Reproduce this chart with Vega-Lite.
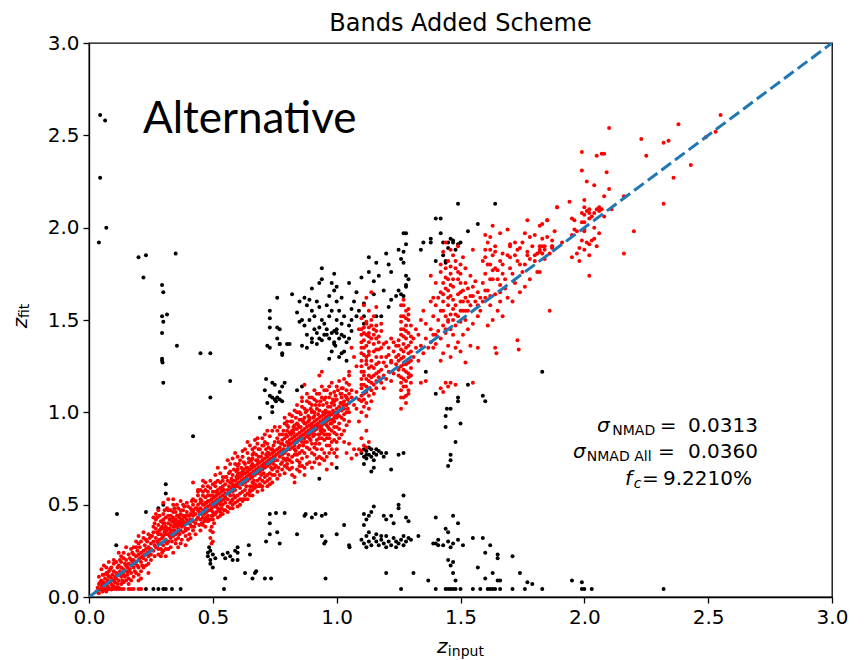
{
  "$schema": "https://vega.github.io/schema/vega-lite/v6.json",
  "width": 743,
  "height": 554,
  "autosize": {"type": "none"},
  "padding": {"left": 89, "top": 43, "right": 32, "bottom": 63},
  "background": "white",
  "config": {
    "view": {"stroke": "black", "strokeWidth": 1.3},
    "axis": {"grid": false, "title": null, "domainColor": "black", "domainWidth": 1.3, "tickColor": "black", "tickWidth": 1.3, "tickSize": 6, "labelFont": "DejaVu Sans", "labelFontSize": 20, "labelColor": "black", "labelPadding": 4, "labelFlush": false, "labelOverlap": false}
  },
  "datasets": {
    "outliers": [
      {"x":0.045,"y":2.61},{"x":0.065,"y":2.58},{"x":0.045,"y":2.27},{"x":0.07,"y":2.0},{"x":0.04,"y":1.92},
      {"x":0.2,"y":1.84},{"x":0.23,"y":1.85},{"x":0.35,"y":1.86},{"x":0.22,"y":1.73},{"x":0.295,"y":1.69},{"x":0.3,"y":1.65},
      {"x":0.295,"y":1.52},{"x":0.315,"y":1.53},{"x":0.3,"y":1.49},{"x":0.295,"y":1.43},{"x":0.355,"y":1.36},{"x":0.295,"y":1.29},
      {"x":0.295,"y":1.28},{"x":0.297,"y":1.27},{"x":0.45,"y":1.32},{"x":0.49,"y":1.32},{"x":0.3,"y":1.16},{"x":0.42,"y":0.87},
      {"x":0.57,"y":1.17},{"x":0.49,"y":1.08},{"x":0.113,"y":0.45},{"x":0.11,"y":0.28},{"x":0.23,"y":0.46},{"x":0.31,"y":0.61},
      {"x":0.31,"y":0.56},{"x":0.3,"y":0.5},{"x":0.28,"y":0.48},
      {"x":0.94,"y":1.78},{"x":0.94,"y":1.72},{"x":0.93,"y":1.7},{"x":0.9,"y":1.67},{"x":0.76,"y":1.62},{"x":0.82,"y":1.64},
      {"x":0.85,"y":1.6},{"x":0.73,"y":1.55},{"x":0.73,"y":1.51},{"x":0.73,"y":1.46},{"x":0.76,"y":1.46},{"x":0.77,"y":1.45},
      {"x":0.76,"y":1.4},{"x":0.77,"y":1.37},{"x":0.73,"y":1.35},{"x":0.78,"y":1.31},{"x":0.81,"y":1.37},{"x":0.84,"y":1.54},
      {"x":0.85,"y":1.49},{"x":0.86,"y":1.5},{"x":0.87,"y":1.62},{"x":0.88,"y":1.58},{"x":0.89,"y":1.61},{"x":0.9,"y":1.55},
      {"x":0.91,"y":1.52},{"x":0.92,"y":1.6},{"x":0.93,"y":1.57},{"x":0.94,"y":1.5},{"x":0.95,"y":1.48},{"x":0.96,"y":1.45},
      {"x":0.92,"y":1.43},{"x":0.9,"y":1.4},{"x":0.88,"y":1.42},{"x":0.87,"y":1.47},{"x":0.89,"y":1.5},{"x":0.93,"y":1.46},
      {"x":0.95,"y":1.42},{"x":0.97,"y":1.4},{"x":0.99,"y":1.44},{"x":0.97,"y":1.52},{"x":0.96,"y":1.58},{"x":0.98,"y":1.55},
      {"x":1.0,"y":1.5},{"x":1.0,"y":1.6},{"x":0.99,"y":1.66},{"x":0.97,"y":1.63},{"x":0.91,"y":1.45},{"x":0.94,"y":1.39},
      {"x":0.86,"y":1.36},{"x":0.88,"y":1.35},{"x":0.92,"y":1.37},
      {"x":0.98,"y":1.7},{"x":1.0,"y":1.68},{"x":1.02,"y":1.62},{"x":1.01,"y":1.55},{"x":1.03,"y":1.52},{"x":1.0,"y":1.45},
      {"x":1.02,"y":1.42},{"x":1.04,"y":1.38},{"x":0.99,"y":1.37},{"x":1.03,"y":1.33},{"x":1.05,"y":1.47},{"x":1.06,"y":1.56},
      {"x":1.05,"y":1.4},{"x":1.01,"y":1.3},{"x":1.04,"y":1.28},{"x":0.98,"y":1.33},{"x":1.06,"y":1.44},{"x":1.08,"y":1.52},
      {"x":0.99,"y":1.75},{"x":1.02,"y":1.48},
      {"x":1.13,"y":1.84},{"x":1.16,"y":1.81},{"x":1.2,"y":1.86},{"x":1.21,"y":1.8},{"x":1.13,"y":1.76},{"x":1.1,"y":1.73},
      {"x":1.15,"y":1.71},{"x":1.17,"y":1.74},{"x":1.22,"y":1.76},{"x":1.19,"y":1.66},{"x":1.15,"y":1.64},{"x":1.11,"y":1.59},
      {"x":1.22,"y":1.61},{"x":1.21,"y":1.57},{"x":1.16,"y":1.52},{"x":1.11,"y":1.52},{"x":1.11,"y":1.48},{"x":1.18,"y":1.52},
      {"x":1.25,"y":1.88},{"x":1.27,"y":1.87},{"x":1.26,"y":1.83},{"x":1.27,"y":1.81},{"x":1.28,"y":1.74},{"x":1.28,"y":1.69},
      {"x":1.26,"y":1.64},{"x":1.27,"y":1.63},{"x":1.28,"y":1.68},{"x":1.24,"y":1.63},{"x":1.25,"y":1.66},{"x":1.29,"y":1.72},
      {"x":1.28,"y":1.91},{"x":1.27,"y":1.97},
      {"x":1.05,"y":1.7},{"x":1.07,"y":1.6},{"x":1.08,"y":1.65},{"x":1.09,"y":1.55},{"x":1.06,"y":1.5},
      {"x":1.34,"y":1.88},{"x":1.35,"y":1.92},{"x":1.38,"y":1.92},{"x":1.38,"y":1.94},{"x":1.4,"y":1.82},{"x":1.43,"y":1.85},
      {"x":1.43,"y":1.92},{"x":1.45,"y":1.92},{"x":1.47,"y":1.92},{"x":1.46,"y":1.94},{"x":1.47,"y":1.93},{"x":1.49,"y":1.91},
      {"x":1.5,"y":1.92},{"x":1.45,"y":1.89},{"x":1.48,"y":1.88},{"x":1.44,"y":1.82},{"x":1.44,"y":1.81},{"x":1.42,"y":1.97},
      {"x":1.4,"y":2.05},{"x":1.42,"y":2.05},{"x":1.49,"y":2.13},{"x":1.64,"y":2.13},{"x":1.57,"y":2.02},{"x":1.28,"y":1.97},
      {"x":1.53,"y":1.98},
      {"x":0.715,"y":1.18},{"x":0.74,"y":1.16},{"x":0.75,"y":1.15},{"x":0.78,"y":1.14},{"x":0.79,"y":1.16},{"x":0.73,"y":1.09},
      {"x":0.74,"y":1.08},{"x":0.75,"y":1.07},{"x":0.76,"y":1.08},{"x":0.72,"y":1.05},{"x":0.74,"y":1.03},{"x":0.755,"y":1.06},
      {"x":0.69,"y":0.97},{"x":0.74,"y":1.0},{"x":0.77,"y":1.07},{"x":0.78,"y":1.06},{"x":0.71,"y":1.12},{"x":0.77,"y":1.11},
      {"x":0.72,"y":1.36},{"x":0.77,"y":1.37},{"x":0.8,"y":1.37},{"x":0.78,"y":1.32},{"x":0.9,"y":1.38},{"x":0.93,"y":1.4},
      {"x":0.96,"y":1.42},{"x":0.98,"y":1.43},{"x":1.0,"y":1.43},{"x":1.01,"y":1.4},{"x":1.03,"y":1.41},{"x":0.97,"y":1.29},
      {"x":1.02,"y":1.32},{"x":0.99,"y":1.38},{"x":0.995,"y":1.36},
      {"x":0.84,"y":1.12},{"x":0.86,"y":1.14},
      {"x":1.59,"y":1.09},{"x":1.6,"y":1.06},{"x":1.49,"y":1.08},{"x":1.49,"y":1.06},{"x":1.445,"y":1.02},{"x":1.46,"y":1.02},
      {"x":1.44,"y":0.98},{"x":1.5,"y":0.94},{"x":1.44,"y":0.92},{"x":1.48,"y":0.84},{"x":1.46,"y":0.77},{"x":1.46,"y":0.74},
      {"x":1.45,"y":0.71},{"x":1.53,"y":1.15},{"x":1.83,"y":1.22},{"x":1.36,"y":1.22},{"x":1.4,"y":1.1},
      {"x":1.1,"y":0.78},{"x":1.11,"y":0.76},{"x":1.12,"y":0.79},{"x":1.13,"y":0.77},{"x":1.14,"y":0.8},{"x":1.15,"y":0.78},
      {"x":1.12,"y":0.75},{"x":1.14,"y":0.76},{"x":1.16,"y":0.77},{"x":1.17,"y":0.79},{"x":1.11,"y":0.8},{"x":1.13,"y":0.81},
      {"x":1.15,"y":0.74},{"x":1.18,"y":0.78},{"x":1.16,"y":0.8},{"x":1.12,"y":0.77},
      {"x":0.93,"y":0.64},{"x":1.0,"y":0.7},{"x":1.11,"y":0.72},{"x":1.14,"y":0.68},{"x":1.15,"y":0.7},{"x":1.22,"y":0.69},
      {"x":1.25,"y":0.77},{"x":1.27,"y":0.78},{"x":1.2,"y":0.78},{"x":1.19,"y":0.76},
      {"x":0.485,"y":0.27},{"x":0.49,"y":0.25},{"x":0.48,"y":0.22},{"x":0.49,"y":0.2},{"x":0.5,"y":0.23},{"x":0.49,"y":0.18},
      {"x":0.5,"y":0.16},{"x":0.51,"y":0.21},{"x":0.48,"y":0.24},{"x":0.54,"y":0.23},{"x":0.55,"y":0.21},{"x":0.56,"y":0.24},
      {"x":0.57,"y":0.22},{"x":0.58,"y":0.2},{"x":0.59,"y":0.25},{"x":0.6,"y":0.27},{"x":0.6,"y":0.24},{"x":0.6,"y":0.2},
      {"x":0.645,"y":0.28},{"x":0.65,"y":0.23},{"x":0.63,"y":0.13},{"x":0.67,"y":0.13},{"x":0.675,"y":0.14},{"x":0.66,"y":0.1},
      {"x":0.71,"y":0.1},{"x":0.735,"y":0.1},{"x":0.55,"y":0.1},{"x":0.545,"y":0.043},{"x":0.73,"y":0.45},{"x":0.73,"y":0.4},
      {"x":0.755,"y":0.455},{"x":0.79,"y":0.455},{"x":0.715,"y":0.3},{"x":0.77,"y":0.29},{"x":0.73,"y":0.34},{"x":0.76,"y":0.35},
      {"x":0.84,"y":0.34},{"x":0.94,"y":0.33},{"x":0.875,"y":0.45},{"x":0.915,"y":0.45},{"x":0.955,"y":0.45},{"x":0.955,"y":0.3},
      {"x":1.0,"y":0.34},{"x":0.955,"y":0.1},{"x":0.87,"y":0.44},{"x":0.9,"y":0.43},{"x":0.94,"y":0.44},{"x":0.95,"y":0.29},
      {"x":1.05,"y":0.28},{"x":1.052,"y":0.27},{"x":1.03,"y":0.39},
      {"x":0.23,"y":0.043},{"x":0.26,"y":0.043},{"x":0.28,"y":0.043},{"x":0.3,"y":0.043},{"x":0.31,"y":0.043},{"x":0.335,"y":0.043},
      {"x":0.37,"y":0.043},
      {"x":1.27,"y":0.55},{"x":1.15,"y":0.49},{"x":1.11,"y":0.45},{"x":1.13,"y":0.44},{"x":1.19,"y":0.44},{"x":1.23,"y":0.4},
      {"x":1.25,"y":0.48},{"x":1.28,"y":0.43},{"x":1.29,"y":0.41},{"x":1.11,"y":0.39},{"x":1.12,"y":0.42},{"x":1.14,"y":0.46},
      {"x":1.2,"y":0.42},{"x":1.22,"y":0.44},{"x":1.25,"y":0.5},
      {"x":1.1,"y":0.31},{"x":1.11,"y":0.29},{"x":1.12,"y":0.33},{"x":1.13,"y":0.3},{"x":1.14,"y":0.28},{"x":1.15,"y":0.32},
      {"x":1.16,"y":0.3},{"x":1.17,"y":0.28},{"x":1.18,"y":0.31},{"x":1.19,"y":0.29},{"x":1.2,"y":0.33},{"x":1.21,"y":0.3},
      {"x":1.22,"y":0.28},{"x":1.23,"y":0.32},{"x":1.24,"y":0.3},{"x":1.25,"y":0.29},{"x":1.26,"y":0.31},{"x":1.27,"y":0.33},
      {"x":1.28,"y":0.3},{"x":1.29,"y":0.32},{"x":1.3,"y":0.31},{"x":1.12,"y":0.27},{"x":1.16,"y":0.34},{"x":1.2,"y":0.27},
      {"x":1.24,"y":0.27},{"x":1.27,"y":0.28},{"x":1.13,"y":0.35},{"x":1.18,"y":0.33},
      {"x":1.33,"y":0.33},{"x":1.4,"y":0.43},{"x":1.4,"y":0.29},{"x":1.41,"y":0.28},
      {"x":1.47,"y":0.44},{"x":1.44,"y":0.37},{"x":1.45,"y":0.35},{"x":1.49,"y":0.4},{"x":1.39,"y":0.29},{"x":1.41,"y":0.31},
      {"x":1.43,"y":0.28},{"x":1.45,"y":0.3},{"x":1.47,"y":0.29},{"x":1.49,"y":0.31},{"x":1.51,"y":0.28},{"x":1.46,"y":0.27},
      {"x":1.55,"y":0.32},{"x":1.59,"y":0.32},{"x":1.62,"y":0.28},{"x":1.6,"y":0.24},{"x":1.65,"y":0.23},{"x":1.65,"y":0.21},
      {"x":1.71,"y":0.22},{"x":1.45,"y":0.2},{"x":1.47,"y":0.19},{"x":1.46,"y":0.17},{"x":1.47,"y":0.13},{"x":1.48,"y":0.09},
      {"x":1.2,"y":0.13},{"x":1.31,"y":0.13},{"x":1.37,"y":0.09},{"x":1.57,"y":0.16},{"x":1.6,"y":0.1},{"x":1.63,"y":0.13},
      {"x":1.65,"y":0.09},{"x":1.66,"y":0.09},{"x":1.74,"y":0.13},{"x":1.77,"y":0.08},{"x":1.79,"y":0.07},
      {"x":1.26,"y":0.043},{"x":1.4,"y":0.043},{"x":1.44,"y":0.043},{"x":1.45,"y":0.043},{"x":1.46,"y":0.043},{"x":1.47,"y":0.043},
      {"x":1.48,"y":0.043},{"x":1.5,"y":0.043},{"x":1.55,"y":0.043},{"x":1.58,"y":0.043},{"x":1.61,"y":0.043},{"x":1.62,"y":0.043},
      {"x":1.63,"y":0.043},{"x":1.64,"y":0.043},{"x":1.66,"y":0.043},{"x":1.71,"y":0.043},{"x":1.76,"y":0.043},{"x":1.83,"y":0.043},
      {"x":1.95,"y":0.09},{"x":1.99,"y":0.08},{"x":1.99,"y":0.043},{"x":2.0,"y":0.043},{"x":2.03,"y":0.043},{"x":2.32,"y":0.043}
    ],
    "matched": [
      {"x":0.03,"y":0.03},{"x":0.035,"y":0.05},{"x":0.04,"y":0.02},{"x":0.04,"y":0.07},{"x":0.045,"y":0.04},{"x":0.05,"y":0.09},
      {"x":0.05,"y":0.06},{"x":0.055,"y":0.03},{"x":0.055,"y":0.12},{"x":0.06,"y":0.05},{"x":0.06,"y":0.08},{"x":0.065,"y":0.1},
      {"x":0.065,"y":0.04},{"x":0.07,"y":0.07},{"x":0.07,"y":0.13},{"x":0.075,"y":0.06},{"x":0.075,"y":0.09},{"x":0.08,"y":0.05},
      {"x":0.08,"y":0.11},{"x":0.085,"y":0.08},{"x":0.085,"y":0.15},{"x":0.09,"y":0.07},{"x":0.09,"y":0.1},{"x":0.095,"y":0.12},
      {"x":0.095,"y":0.06},{"x":0.1,"y":0.09},{"x":0.1,"y":0.14},{"x":0.1,"y":0.18},{"x":0.105,"y":0.08},{"x":0.105,"y":0.11},
      {"x":0.11,"y":0.13},{"x":0.11,"y":0.1},{"x":0.115,"y":0.07},{"x":0.115,"y":0.16},{"x":0.12,"y":0.12},{"x":0.12,"y":0.09},
      {"x":0.125,"y":0.14},{"x":0.125,"y":0.2},{"x":0.13,"y":0.11},{"x":0.13,"y":0.16},{"x":0.135,"y":0.13},{"x":0.135,"y":0.09},
      {"x":0.14,"y":0.15},{"x":0.14,"y":0.12},{"x":0.145,"y":0.18},{"x":0.145,"y":0.11},{"x":0.15,"y":0.14},{"x":0.15,"y":0.2},
      {"x":0.155,"y":0.16},{"x":0.155,"y":0.12},{"x":0.16,"y":0.18},{"x":0.16,"y":0.14},{"x":0.165,"y":0.21},{"x":0.165,"y":0.15},
      {"x":0.17,"y":0.17},{"x":0.17,"y":0.13},{"x":0.175,"y":0.19},{"x":0.175,"y":0.24},{"x":0.18,"y":0.16},{"x":0.18,"y":0.2},
      {"x":0.185,"y":0.18},{"x":0.185,"y":0.14},{"x":0.19,"y":0.22},{"x":0.19,"y":0.19},{"x":0.195,"y":0.17},{"x":0.195,"y":0.25},
      {"x":0.2,"y":0.2},{"x":0.2,"y":0.23},{"x":0.2,"y":0.16},{"x":0.205,"y":0.21},{"x":0.205,"y":0.27},{"x":0.21,"y":0.19},
      {"x":0.21,"y":0.24},{"x":0.215,"y":0.22},{"x":0.215,"y":0.17},{"x":0.22,"y":0.25},{"x":0.22,"y":0.21},{"x":0.225,"y":0.28},
      {"x":0.225,"y":0.23},{"x":0.23,"y":0.2},{"x":0.23,"y":0.26},{"x":0.235,"y":0.24},{"x":0.235,"y":0.3},{"x":0.24,"y":0.22},
      {"x":0.24,"y":0.27},{"x":0.245,"y":0.25},{"x":0.245,"y":0.32},{"x":0.25,"y":0.23},{"x":0.25,"y":0.29},{"x":0.25,"y":0.26},
      {"x":0.05,"y":0.15},{"x":0.06,"y":0.17},{"x":0.08,"y":0.19},{"x":0.12,"y":0.24},{"x":0.15,"y":0.27},{"x":0.17,"y":0.09},
      {"x":0.2,"y":0.33},{"x":0.04,"y":0.11},{"x":0.07,"y":0.16},{"x":0.13,"y":0.22},
      {"x":0.06,"y":0.12},{"x":0.07,"y":0.03},{"x":0.08,"y":0.14},{"x":0.09,"y":0.04},{"x":0.09,"y":0.16},{"x":0.1,"y":0.06},
      {"x":0.11,"y":0.19},{"x":0.11,"y":0.05},{"x":0.12,"y":0.17},{"x":0.13,"y":0.07},{"x":0.13,"y":0.19},{"x":0.14,"y":0.08},
      {"x":0.14,"y":0.21},{"x":0.15,"y":0.09},{"x":0.15,"y":0.17},{"x":0.16,"y":0.1},{"x":0.16,"y":0.23},{"x":0.17,"y":0.2},
      {"x":0.17,"y":0.26},{"x":0.18,"y":0.11},{"x":0.18,"y":0.23},{"x":0.19,"y":0.13},{"x":0.19,"y":0.27},{"x":0.2,"y":0.12},
      {"x":0.2,"y":0.29},{"x":0.21,"y":0.14},{"x":0.21,"y":0.3},{"x":0.22,"y":0.16},{"x":0.22,"y":0.32},{"x":0.23,"y":0.17},
      {"x":0.23,"y":0.31},{"x":0.24,"y":0.18},{"x":0.24,"y":0.34},{"x":0.25,"y":0.2},{"x":0.25,"y":0.33},{"x":0.045,"y":0.08},
      {"x":0.055,"y":0.07},{"x":0.065,"y":0.07},{"x":0.075,"y":0.12},{"x":0.085,"y":0.11},
      {"x":0.1,"y":0.2},{"x":0.12,"y":0.05},{"x":0.14,"y":0.24},{"x":0.16,"y":0.07},{"x":0.18,"y":0.27},{"x":0.2,"y":0.09},
      {"x":0.22,"y":0.35},{"x":0.24,"y":0.13},{"x":0.19,"y":0.3},{"x":0.21,"y":0.1},
      {"x":0.05,"y":0.043},{"x":0.06,"y":0.043},{"x":0.07,"y":0.043},{"x":0.08,"y":0.043},{"x":0.09,"y":0.043},{"x":0.1,"y":0.043},
      {"x":0.11,"y":0.043},{"x":0.12,"y":0.043},{"x":0.13,"y":0.043},{"x":0.14,"y":0.043},{"x":0.16,"y":0.043},{"x":0.17,"y":0.043},
      {"x":0.18,"y":0.043},{"x":0.2,"y":0.043},{"x":0.21,"y":0.043},
      {"x":0.26,"y":0.3},{"x":0.26,"y":0.35},{"x":0.26,"y":0.25},{"x":0.265,"y":0.28},{"x":0.265,"y":0.4},{"x":0.27,"y":0.32},
      {"x":0.27,"y":0.27},{"x":0.27,"y":0.37},{"x":0.275,"y":0.3},{"x":0.275,"y":0.43},{"x":0.28,"y":0.34},{"x":0.28,"y":0.26},
      {"x":0.28,"y":0.39},{"x":0.285,"y":0.31},{"x":0.285,"y":0.36},{"x":0.29,"y":0.29},{"x":0.29,"y":0.41},{"x":0.29,"y":0.34},
      {"x":0.295,"y":0.38},{"x":0.295,"y":0.24},{"x":0.3,"y":0.33},{"x":0.3,"y":0.37},{"x":0.3,"y":0.45},{"x":0.3,"y":0.28},
      {"x":0.305,"y":0.35},{"x":0.305,"y":0.4},{"x":0.31,"y":0.31},{"x":0.31,"y":0.38},{"x":0.31,"y":0.43},{"x":0.31,"y":0.26},
      {"x":0.315,"y":0.36},{"x":0.315,"y":0.48},{"x":0.32,"y":0.34},{"x":0.32,"y":0.4},{"x":0.32,"y":0.3},{"x":0.32,"y":0.44},
      {"x":0.325,"y":0.37},{"x":0.325,"y":0.42},{"x":0.33,"y":0.35},{"x":0.33,"y":0.39},{"x":0.33,"y":0.32},{"x":0.33,"y":0.47},
      {"x":0.335,"y":0.41},{"x":0.335,"y":0.36},{"x":0.34,"y":0.38},{"x":0.34,"y":0.43},{"x":0.34,"y":0.33},{"x":0.34,"y":0.5},
      {"x":0.345,"y":0.4},{"x":0.345,"y":0.36},{"x":0.35,"y":0.42},{"x":0.35,"y":0.38},{"x":0.35,"y":0.34},{"x":0.35,"y":0.46},
      {"x":0.355,"y":0.39},{"x":0.355,"y":0.44},{"x":0.36,"y":0.37},{"x":0.36,"y":0.41},{"x":0.36,"y":0.32},{"x":0.36,"y":0.48},
      {"x":0.365,"y":0.43},{"x":0.365,"y":0.39},{"x":0.37,"y":0.4},{"x":0.37,"y":0.36},{"x":0.37,"y":0.45},{"x":0.37,"y":0.52},
      {"x":0.375,"y":0.42},{"x":0.375,"y":0.38},{"x":0.38,"y":0.41},{"x":0.38,"y":0.35},{"x":0.38,"y":0.47},{"x":0.385,"y":0.43},
      {"x":0.385,"y":0.39},{"x":0.39,"y":0.44},{"x":0.39,"y":0.4},{"x":0.39,"y":0.33},{"x":0.395,"y":0.46},{"x":0.395,"y":0.42},
      {"x":0.4,"y":0.41},{"x":0.4,"y":0.37},{"x":0.4,"y":0.49},{"x":0.405,"y":0.44},{"x":0.405,"y":0.4},{"x":0.41,"y":0.45},
      {"x":0.41,"y":0.42},{"x":0.415,"y":0.47},{"x":0.415,"y":0.38},{"x":0.42,"y":0.44},{"x":0.42,"y":0.5},{"x":0.42,"y":0.41},
      {"x":0.28,"y":0.47},{"x":0.3,"y":0.51},{"x":0.32,"y":0.53},{"x":0.33,"y":0.27},{"x":0.35,"y":0.29},{"x":0.37,"y":0.29},
      {"x":0.39,"y":0.28},{"x":0.41,"y":0.32},{"x":0.29,"y":0.22},{"x":0.31,"y":0.22},{"x":0.34,"y":0.24},{"x":0.36,"y":0.27},
      {"x":0.27,"y":0.42},{"x":0.4,"y":0.31},{"x":0.38,"y":0.5},{"x":0.33,"y":0.42},{"x":0.35,"y":0.4},{"x":0.37,"y":0.41},
      {"x":0.32,"y":0.37},{"x":0.34,"y":0.41},{"x":0.36,"y":0.35},{"x":0.31,"y":0.34},{"x":0.29,"y":0.37},{"x":0.39,"y":0.37},
      {"x":0.41,"y":0.48},{"x":0.42,"y":0.36},{"x":0.38,"y":0.44},{"x":0.36,"y":0.44},{"x":0.34,"y":0.46},{"x":0.3,"y":0.4},
      {"x":0.255,"y":0.33},{"x":0.26,"y":0.38},{"x":0.265,"y":0.22},{"x":0.27,"y":0.45},{"x":0.275,"y":0.35},{"x":0.28,"y":0.29},
      {"x":0.285,"y":0.44},{"x":0.29,"y":0.26},{"x":0.295,"y":0.32},{"x":0.3,"y":0.42},{"x":0.305,"y":0.3},{"x":0.305,"y":0.47},
      {"x":0.31,"y":0.36},{"x":0.315,"y":0.29},{"x":0.32,"y":0.47},{"x":0.325,"y":0.33},{"x":0.33,"y":0.44},{"x":0.335,"y":0.3},
      {"x":0.34,"y":0.36},{"x":0.345,"y":0.48},{"x":0.35,"y":0.31},{"x":0.355,"y":0.5},{"x":0.36,"y":0.39},{"x":0.365,"y":0.34},
      {"x":0.37,"y":0.47},{"x":0.375,"y":0.31},{"x":0.38,"y":0.39},{"x":0.385,"y":0.49},{"x":0.39,"y":0.36},{"x":0.395,"y":0.51},
      {"x":0.4,"y":0.44},{"x":0.405,"y":0.34},{"x":0.41,"y":0.39},{"x":0.415,"y":0.52},{"x":0.42,"y":0.47},{"x":0.3,"y":0.25},
      {"x":0.32,"y":0.26},{"x":0.28,"y":0.23},{"x":0.26,"y":0.43},{"x":0.34,"y":0.53},
      {"x":0.43,"y":0.45},{"x":0.43,"y":0.4},{"x":0.435,"y":0.48},{"x":0.44,"y":0.43},{"x":0.44,"y":0.5},{"x":0.445,"y":0.46},
      {"x":0.45,"y":0.42},{"x":0.45,"y":0.48},{"x":0.455,"y":0.45},{"x":0.455,"y":0.52},{"x":0.46,"y":0.47},{"x":0.46,"y":0.43},
      {"x":0.465,"y":0.5},{"x":0.465,"y":0.45},{"x":0.47,"y":0.48},{"x":0.47,"y":0.54},{"x":0.475,"y":0.46},{"x":0.475,"y":0.51},
      {"x":0.48,"y":0.49},{"x":0.48,"y":0.44},{"x":0.485,"y":0.52},{"x":0.485,"y":0.47},{"x":0.49,"y":0.5},{"x":0.49,"y":0.55},
      {"x":0.495,"y":0.48},{"x":0.495,"y":0.53},{"x":0.5,"y":0.51},{"x":0.5,"y":0.46},{"x":0.505,"y":0.54},{"x":0.505,"y":0.49},
      {"x":0.51,"y":0.52},{"x":0.51,"y":0.57},{"x":0.515,"y":0.5},{"x":0.515,"y":0.55},{"x":0.52,"y":0.53},{"x":0.52,"y":0.48},
      {"x":0.525,"y":0.56},{"x":0.525,"y":0.51},{"x":0.53,"y":0.54},{"x":0.53,"y":0.59},{"x":0.535,"y":0.52},{"x":0.535,"y":0.57},
      {"x":0.54,"y":0.55},{"x":0.54,"y":0.5},{"x":0.545,"y":0.58},{"x":0.545,"y":0.53},{"x":0.55,"y":0.56},{"x":0.55,"y":0.61},
      {"x":0.55,"y":0.51},
      {"x":0.49,"y":0.42},{"x":0.495,"y":0.38},{"x":0.5,"y":0.35},{"x":0.49,"y":0.32},{"x":0.5,"y":0.3},{"x":0.505,"y":0.4},
      {"x":0.495,"y":0.29},{"x":0.49,"y":0.36},{"x":0.5,"y":0.44},
      {"x":0.44,"y":0.58},{"x":0.46,"y":0.6},{"x":0.47,"y":0.38},{"x":0.45,"y":0.36},{"x":0.43,"y":0.34},{"x":0.48,"y":0.6},
      {"x":0.52,"y":0.63},{"x":0.53,"y":0.44},{"x":0.54,"y":0.65},{"x":0.46,"y":0.55},{"x":0.42,"y":0.53},{"x":0.51,"y":0.62},
      {"x":0.42,"y":0.62},{"x":0.44,"y":0.57},
      {"x":0.425,"y":0.38},{"x":0.43,"y":0.52},{"x":0.435,"y":0.42},{"x":0.44,"y":0.55},{"x":0.445,"y":0.39},{"x":0.45,"y":0.53},
      {"x":0.455,"y":0.4},{"x":0.46,"y":0.57},{"x":0.465,"y":0.41},{"x":0.47,"y":0.58},{"x":0.475,"y":0.43},{"x":0.48,"y":0.55},
      {"x":0.485,"y":0.42},{"x":0.49,"y":0.59},{"x":0.495,"y":0.44},{"x":0.5,"y":0.57},{"x":0.505,"y":0.45},{"x":0.51,"y":0.6},
      {"x":0.515,"y":0.46},{"x":0.52,"y":0.58},{"x":0.525,"y":0.47},{"x":0.53,"y":0.62},{"x":0.535,"y":0.48},{"x":0.54,"y":0.6},
      {"x":0.545,"y":0.47},{"x":0.55,"y":0.65},{"x":0.43,"y":0.48},{"x":0.45,"y":0.51},{"x":0.47,"y":0.51},{"x":0.49,"y":0.47},
      {"x":0.51,"y":0.49},{"x":0.53,"y":0.5},{"x":0.55,"y":0.54},{"x":0.44,"y":0.47},{"x":0.46,"y":0.5},{"x":0.48,"y":0.52},
      {"x":0.5,"y":0.55},{"x":0.52,"y":0.56},{"x":0.54,"y":0.58},{"x":0.42,"y":0.46},
      {"x":0.45,"y":0.58},{"x":0.47,"y":0.62},{"x":0.49,"y":0.63},{"x":0.51,"y":0.66},{"x":0.53,"y":0.67},{"x":0.55,"y":0.7},
      {"x":0.57,"y":0.72},{"x":0.58,"y":0.75},{"x":0.6,"y":0.76},{"x":0.62,"y":0.79},{"x":0.63,"y":0.8},{"x":0.65,"y":0.82},
      {"x":0.66,"y":0.8},{"x":0.68,"y":0.83},{"x":0.7,"y":0.86},{"x":0.71,"y":0.88},{"x":0.73,"y":0.87},{"x":0.74,"y":0.9},
      {"x":0.46,"y":0.63},{"x":0.5,"y":0.61},{"x":0.52,"y":0.7},{"x":0.56,"y":0.74},{"x":0.59,"y":0.78},{"x":0.61,"y":0.74},
      {"x":0.64,"y":0.84},{"x":0.67,"y":0.85},{"x":0.69,"y":0.8},{"x":0.72,"y":0.9},{"x":0.75,"y":0.92},{"x":0.48,"y":0.57},
      {"x":0.54,"y":0.63},{"x":0.6,"y":0.69},{"x":0.66,"y":0.77},{"x":0.7,"y":0.82},{"x":0.76,"y":0.9},
      {"x":0.46,"y":0.39},{"x":0.48,"y":0.41},{"x":0.5,"y":0.42},{"x":0.52,"y":0.43},{"x":0.54,"y":0.45},{"x":0.56,"y":0.46},
      {"x":0.58,"y":0.5},{"x":0.6,"y":0.49},{"x":0.62,"y":0.52},{"x":0.64,"y":0.53},{"x":0.66,"y":0.55},{"x":0.68,"y":0.57},
      {"x":0.7,"y":0.58},{"x":0.72,"y":0.6},{"x":0.74,"y":0.62},{"x":0.76,"y":0.64},{"x":0.55,"y":0.47},{"x":0.57,"y":0.48},
      {"x":0.59,"y":0.51},{"x":0.61,"y":0.53},{"x":0.63,"y":0.55},{"x":0.65,"y":0.57},{"x":0.67,"y":0.59},{"x":0.69,"y":0.6},
      {"x":0.71,"y":0.62},{"x":0.73,"y":0.61},{"x":0.75,"y":0.66},{"x":0.53,"y":0.46},{"x":0.51,"y":0.45},{"x":0.47,"y":0.42},
      {"x":0.56,"y":0.58},{"x":0.56,"y":0.53},{"x":0.56,"y":0.63},{"x":0.565,"y":0.56},{"x":0.565,"y":0.6},{"x":0.57,"y":0.55},
      {"x":0.57,"y":0.62},{"x":0.575,"y":0.59},{"x":0.575,"y":0.52},{"x":0.58,"y":0.61},{"x":0.58,"y":0.57},{"x":0.58,"y":0.66},
      {"x":0.585,"y":0.6},{"x":0.585,"y":0.55},{"x":0.59,"y":0.63},{"x":0.59,"y":0.58},{"x":0.595,"y":0.61},{"x":0.595,"y":0.68},
      {"x":0.6,"y":0.6},{"x":0.6,"y":0.64},{"x":0.6,"y":0.55},{"x":0.605,"y":0.62},{"x":0.605,"y":0.67},{"x":0.61,"y":0.59},
      {"x":0.61,"y":0.65},{"x":0.615,"y":0.63},{"x":0.615,"y":0.7},{"x":0.62,"y":0.61},{"x":0.62,"y":0.66},{"x":0.62,"y":0.57},
      {"x":0.625,"y":0.64},{"x":0.625,"y":0.69},{"x":0.63,"y":0.62},{"x":0.63,"y":0.67},{"x":0.63,"y":0.72},{"x":0.635,"y":0.65},
      {"x":0.635,"y":0.6},{"x":0.64,"y":0.68},{"x":0.64,"y":0.63},{"x":0.645,"y":0.66},{"x":0.645,"y":0.73},{"x":0.65,"y":0.64},
      {"x":0.65,"y":0.69},{"x":0.65,"y":0.6},{"x":0.655,"y":0.67},{"x":0.655,"y":0.71},{"x":0.66,"y":0.65},{"x":0.66,"y":0.7},
      {"x":0.66,"y":0.75},{"x":0.665,"y":0.68},{"x":0.665,"y":0.63},{"x":0.67,"y":0.71},{"x":0.67,"y":0.66},{"x":0.675,"y":0.69},
      {"x":0.675,"y":0.74},{"x":0.68,"y":0.67},{"x":0.68,"y":0.72},{"x":0.68,"y":0.63},{"x":0.685,"y":0.7},{"x":0.685,"y":0.76},
      {"x":0.69,"y":0.68},{"x":0.69,"y":0.73},{"x":0.695,"y":0.71},{"x":0.695,"y":0.66},{"x":0.7,"y":0.74},{"x":0.7,"y":0.69},
      {"x":0.7,"y":0.78},{"x":0.705,"y":0.72},{"x":0.705,"y":0.67},{"x":0.71,"y":0.75},{"x":0.71,"y":0.7},{"x":0.715,"y":0.73},
      {"x":0.715,"y":0.8},{"x":0.72,"y":0.71},{"x":0.72,"y":0.76},{"x":0.72,"y":0.66},{"x":0.725,"y":0.74},{"x":0.725,"y":0.78},
      {"x":0.73,"y":0.72},{"x":0.73,"y":0.77},{"x":0.735,"y":0.75},{"x":0.735,"y":0.7},{"x":0.74,"y":0.78},{"x":0.74,"y":0.73},
      {"x":0.745,"y":0.76},{"x":0.745,"y":0.82},{"x":0.75,"y":0.74},{"x":0.75,"y":0.79},{"x":0.75,"y":0.7},{"x":0.755,"y":0.77},
      {"x":0.57,"y":0.68},{"x":0.59,"y":0.72},{"x":0.61,"y":0.5},{"x":0.63,"y":0.53},{"x":0.64,"y":0.78},{"x":0.66,"y":0.58},
      {"x":0.67,"y":0.81},{"x":0.69,"y":0.61},{"x":0.71,"y":0.84},{"x":0.73,"y":0.64},{"x":0.58,"y":0.48},{"x":0.62,"y":0.76},
      {"x":0.68,"y":0.86},{"x":0.7,"y":0.6},{"x":0.74,"y":0.66},{"x":0.6,"y":0.71},{"x":0.65,"y":0.55},{"x":0.72,"y":0.83},
      {"x":0.76,"y":0.68},{"x":0.66,"y":0.62},
      {"x":0.555,"y":0.65},{"x":0.56,"y":0.49},{"x":0.565,"y":0.67},{"x":0.57,"y":0.51},{"x":0.575,"y":0.64},{"x":0.58,"y":0.53},
      {"x":0.585,"y":0.69},{"x":0.59,"y":0.54},{"x":0.595,"y":0.65},{"x":0.6,"y":0.52},{"x":0.605,"y":0.72},{"x":0.61,"y":0.56},
      {"x":0.615,"y":0.67},{"x":0.62,"y":0.53},{"x":0.625,"y":0.73},{"x":0.63,"y":0.58},{"x":0.635,"y":0.7},{"x":0.64,"y":0.56},
      {"x":0.645,"y":0.75},{"x":0.65,"y":0.58},{"x":0.655,"y":0.74},{"x":0.66,"y":0.6},{"x":0.665,"y":0.78},{"x":0.67,"y":0.61},
      {"x":0.675,"y":0.77},{"x":0.68,"y":0.6},{"x":0.685,"y":0.8},{"x":0.69,"y":0.64},{"x":0.695,"y":0.76},{"x":0.7,"y":0.63},
      {"x":0.705,"y":0.82},{"x":0.71,"y":0.65},{"x":0.715,"y":0.77},{"x":0.72,"y":0.63},{"x":0.725,"y":0.81},{"x":0.73,"y":0.67},
      {"x":0.735,"y":0.8},{"x":0.74,"y":0.69},{"x":0.745,"y":0.72},{"x":0.75,"y":0.84},{"x":0.755,"y":0.71},{"x":0.57,"y":0.58},
      {"x":0.59,"y":0.6},{"x":0.61,"y":0.62},{"x":0.63,"y":0.64},{"x":0.65,"y":0.66},{"x":0.67,"y":0.68},{"x":0.69,"y":0.7},
      {"x":0.71,"y":0.72},{"x":0.73,"y":0.74},{"x":0.75,"y":0.76},{"x":0.58,"y":0.63},{"x":0.6,"y":0.66},{"x":0.62,"y":0.68},
      {"x":0.64,"y":0.7},{"x":0.66,"y":0.72},{"x":0.68,"y":0.74},{"x":0.7,"y":0.71},{"x":0.72,"y":0.78},{"x":0.74,"y":0.8},
      {"x":0.76,"y":0.8},{"x":0.76,"y":0.74},{"x":0.765,"y":0.78},{"x":0.765,"y":0.84},{"x":0.77,"y":0.76},{"x":0.77,"y":0.81},
      {"x":0.775,"y":0.79},{"x":0.775,"y":0.72},{"x":0.78,"y":0.83},{"x":0.78,"y":0.77},{"x":0.78,"y":0.88},{"x":0.785,"y":0.8},
      {"x":0.785,"y":0.75},{"x":0.79,"y":0.82},{"x":0.79,"y":0.86},{"x":0.795,"y":0.79},{"x":0.795,"y":0.74},{"x":0.8,"y":0.84},
      {"x":0.8,"y":0.8},{"x":0.8,"y":0.9},{"x":0.805,"y":0.82},{"x":0.805,"y":0.77},{"x":0.81,"y":0.85},{"x":0.81,"y":0.8},
      {"x":0.815,"y":0.88},{"x":0.815,"y":0.83},{"x":0.82,"y":0.81},{"x":0.82,"y":0.86},{"x":0.82,"y":0.76},{"x":0.825,"y":0.84},
      {"x":0.825,"y":0.92},{"x":0.83,"y":0.87},{"x":0.83,"y":0.82},{"x":0.835,"y":0.85},{"x":0.835,"y":0.79},{"x":0.84,"y":0.88},
      {"x":0.84,"y":0.84},{"x":0.84,"y":0.94},{"x":0.845,"y":0.86},{"x":0.845,"y":0.81},{"x":0.85,"y":0.89},{"x":0.85,"y":0.85},
      {"x":0.85,"y":0.78},{"x":0.855,"y":0.87},{"x":0.855,"y":0.92},{"x":0.86,"y":0.84},{"x":0.86,"y":0.9},{"x":0.86,"y":0.96},
      {"x":0.865,"y":0.88},{"x":0.865,"y":0.82},{"x":0.87,"y":0.91},{"x":0.87,"y":0.86},{"x":0.875,"y":0.89},{"x":0.875,"y":0.94},
      {"x":0.88,"y":0.87},{"x":0.88,"y":0.92},{"x":0.88,"y":0.81},{"x":0.885,"y":0.9},{"x":0.885,"y":0.98},{"x":0.89,"y":0.88},
      {"x":0.89,"y":0.93},{"x":0.895,"y":0.91},{"x":0.895,"y":0.85},{"x":0.9,"y":0.89},{"x":0.9,"y":0.94},{"x":0.9,"y":1.0},
      {"x":0.905,"y":0.92},{"x":0.905,"y":0.87},{"x":0.91,"y":0.95},{"x":0.91,"y":0.9},{"x":0.915,"y":0.93},{"x":0.915,"y":0.83},
      {"x":0.92,"y":0.91},{"x":0.92,"y":0.96},{"x":0.92,"y":1.02},{"x":0.925,"y":0.94},{"x":0.925,"y":0.88},{"x":0.93,"y":0.92},
      {"x":0.93,"y":0.97},{"x":0.935,"y":0.95},{"x":0.935,"y":0.9},{"x":0.94,"y":0.93},{"x":0.94,"y":0.98},{"x":0.94,"y":0.86},
      {"x":0.945,"y":0.96},{"x":0.945,"y":1.04},{"x":0.95,"y":0.94},{"x":0.95,"y":0.99},{"x":0.95,"y":0.9},{"x":0.955,"y":0.97},
      {"x":0.955,"y":1.01},{"x":0.96,"y":0.95},{"x":0.96,"y":1.0},{"x":0.965,"y":0.98},{"x":0.965,"y":0.92},{"x":0.97,"y":1.0},
      {"x":0.97,"y":0.96},{"x":0.975,"y":1.03},{"x":0.975,"y":0.94},{"x":0.98,"y":0.99},{"x":0.98,"y":1.05},{"x":0.985,"y":1.01},
      {"x":0.985,"y":0.96},{"x":0.99,"y":1.0},{"x":0.99,"y":1.04},{"x":0.995,"y":0.98},{"x":1.0,"y":1.02},{"x":1.0,"y":0.97},
      {"x":1.0,"y":1.07},{"x":1.005,"y":1.0},{"x":1.01,"y":1.03},{"x":1.01,"y":0.98},{"x":1.015,"y":1.05},{"x":1.02,"y":1.01},
      {"x":1.02,"y":1.08},{"x":1.025,"y":1.04},{"x":1.03,"y":1.02},{"x":1.03,"y":1.06},{"x":1.035,"y":1.09},{"x":1.04,"y":1.04},
      {"x":1.04,"y":1.0},{"x":1.045,"y":1.07},{"x":1.05,"y":1.05},{"x":1.05,"y":1.1},
      {"x":0.78,"y":0.69},{"x":0.8,"y":0.72},{"x":0.82,"y":0.7},{"x":0.83,"y":0.65},{"x":0.84,"y":0.74},{"x":0.86,"y":0.75},
      {"x":0.87,"y":0.7},{"x":0.88,"y":0.76},{"x":0.9,"y":0.78},{"x":0.91,"y":0.73},{"x":0.92,"y":0.8},{"x":0.93,"y":0.76},
      {"x":0.94,"y":0.8},{"x":0.95,"y":0.74},{"x":0.96,"y":0.82},{"x":0.97,"y":0.78},{"x":0.98,"y":0.72},{"x":0.99,"y":0.85},
      {"x":1.0,"y":0.8},{"x":0.97,"y":0.88},{"x":0.98,"y":0.9},{"x":0.99,"y":0.92},{"x":1.0,"y":0.88},{"x":0.83,"y":0.62},
      {"x":0.96,"y":0.69},{"x":0.85,"y":0.68},
      {"x":0.8,"y":0.95},{"x":0.82,"y":0.98},{"x":0.84,"y":1.0},{"x":0.86,"y":1.03},{"x":0.87,"y":0.97},{"x":0.89,"y":1.05},
      {"x":0.9,"y":1.08},{"x":0.92,"y":1.06},{"x":0.93,"y":1.1},{"x":0.88,"y":1.01},{"x":0.85,"y":0.96},{"x":0.91,"y":1.12},
      {"x":0.95,"y":1.07},{"x":0.96,"y":1.12},{"x":0.94,"y":1.14},{"x":0.97,"y":1.08},{"x":0.86,"y":1.08},{"x":0.79,"y":0.94},
      {"x":0.83,"y":0.91},{"x":0.89,"y":0.97},{"x":0.91,"y":1.0},{"x":0.93,"y":1.01},{"x":0.99,"y":1.11},{"x":1.02,"y":1.13},
      {"x":0.93,"y":1.2},{"x":0.94,"y":1.22},{"x":0.87,"y":1.15},
      {"x":0.76,"y":0.86},{"x":0.765,"y":0.7},{"x":0.77,"y":0.88},{"x":0.775,"y":0.83},{"x":0.78,"y":0.73},{"x":0.785,"y":0.9},
      {"x":0.79,"y":0.71},{"x":0.795,"y":0.88},{"x":0.8,"y":0.75},{"x":0.805,"y":0.92},{"x":0.81,"y":0.74},{"x":0.815,"y":0.95},
      {"x":0.82,"y":0.73},{"x":0.825,"y":0.89},{"x":0.83,"y":0.77},{"x":0.835,"y":0.97},{"x":0.84,"y":0.77},{"x":0.845,"y":0.93},
      {"x":0.85,"y":0.73},{"x":0.855,"y":0.99},{"x":0.86,"y":0.79},{"x":0.865,"y":0.95},{"x":0.87,"y":0.78},{"x":0.875,"y":1.0},
      {"x":0.88,"y":0.84},{"x":0.885,"y":0.95},{"x":0.89,"y":0.8},{"x":0.895,"y":1.02},{"x":0.9,"y":0.83},{"x":0.905,"y":0.97},
      {"x":0.91,"y":0.81},{"x":0.915,"y":1.04},{"x":0.92,"y":0.85},{"x":0.925,"y":0.99},{"x":0.93,"y":0.83},{"x":0.935,"y":1.06},
      {"x":0.94,"y":0.89},{"x":0.945,"y":1.0},{"x":0.95,"y":0.85},{"x":0.955,"y":1.08},{"x":0.96,"y":0.88},{"x":0.965,"y":1.03},
      {"x":0.97,"y":0.91},{"x":0.975,"y":1.1},{"x":0.98,"y":0.94},{"x":0.985,"y":1.07},{"x":0.99,"y":0.95},{"x":0.995,"y":1.09},
      {"x":1.0,"y":0.92},{"x":1.005,"y":1.12},{"x":1.01,"y":0.94},{"x":1.015,"y":1.1},{"x":1.02,"y":0.97},{"x":1.025,"y":1.13},
      {"x":1.03,"y":0.99},{"x":1.035,"y":1.04},{"x":1.04,"y":1.12},{"x":1.045,"y":1.02},{"x":1.05,"y":1.15},{"x":0.81,"y":0.89},
      {"x":0.83,"y":0.93},{"x":0.85,"y":0.92},{"x":0.87,"y":0.94},{"x":0.89,"y":0.96},{"x":0.91,"y":0.98},{"x":0.93,"y":0.88},
      {"x":0.95,"y":0.96},{"x":0.97,"y":0.98},{"x":0.99,"y":0.97},{"x":0.82,"y":0.9},{"x":0.84,"y":0.91},{"x":0.86,"y":0.86},
      {"x":0.88,"y":0.89},{"x":0.9,"y":0.92},{"x":0.92,"y":0.93},{"x":0.94,"y":0.91},{"x":0.96,"y":0.93},{"x":0.98,"y":0.96},
      {"x":1.0,"y":0.99},{"x":1.02,"y":1.05},{"x":1.04,"y":1.08},{"x":0.8,"y":0.87},{"x":0.78,"y":0.85},{"x":0.79,"y":0.78},
      {"x":0.81,"y":0.83},{"x":0.83,"y":0.8},{"x":0.85,"y":0.82},{"x":0.87,"y":0.84},{"x":0.89,"y":0.86},{"x":0.91,"y":0.88},
      {"x":0.93,"y":0.86},{"x":0.95,"y":0.88},{"x":0.97,"y":0.86},{"x":0.99,"y":0.89},{"x":1.01,"y":0.91},{"x":1.03,"y":0.96},
      {"x":1.05,"y":1.0},{"x":0.9,"y":1.04},{"x":0.88,"y":1.06},
      {"x":0.77,"y":0.92},{"x":0.79,"y":0.97},{"x":0.81,"y":0.99},{"x":0.83,"y":1.01},{"x":0.84,"y":1.04},{"x":0.86,"y":1.06},
      {"x":0.88,"y":1.1},{"x":0.89,"y":1.08},{"x":0.91,"y":1.07},{"x":0.92,"y":1.1},{"x":0.94,"y":1.08},{"x":0.95,"y":1.12},
      {"x":0.97,"y":1.14},{"x":0.98,"y":1.16},{"x":1.0,"y":1.14},{"x":1.01,"y":1.17},{"x":1.03,"y":1.18},{"x":1.04,"y":1.16},
      {"x":0.8,"y":0.93},{"x":0.82,"y":0.95},{"x":0.85,"y":1.0},{"x":0.87,"y":1.02},{"x":0.9,"y":1.01},{"x":0.93,"y":1.04},
      {"x":0.96,"y":1.05},{"x":0.99,"y":1.06},{"x":1.02,"y":1.1},{"x":1.05,"y":1.2},
      {"x":0.77,"y":0.66},{"x":0.79,"y":0.67},{"x":0.81,"y":0.69},{"x":0.82,"y":0.66},{"x":0.84,"y":0.69},{"x":0.86,"y":0.71},
      {"x":0.87,"y":0.66},{"x":0.89,"y":0.73},{"x":0.9,"y":0.7},{"x":0.92,"y":0.75},{"x":0.93,"y":0.72},{"x":0.95,"y":0.78},
      {"x":0.96,"y":0.76},{"x":0.98,"y":0.8},{"x":0.99,"y":0.78},{"x":1.0,"y":0.84},{"x":1.01,"y":0.86},{"x":1.02,"y":0.88},
      {"x":1.03,"y":0.9},{"x":1.04,"y":0.93},{"x":1.05,"y":0.95},{"x":0.88,"y":0.72},{"x":0.91,"y":0.77},{"x":0.94,"y":0.75},
      {"x":0.97,"y":0.82},{"x":0.85,"y":0.71},{"x":0.8,"y":0.7},{"x":1.0,"y":0.76},{"x":0.98,"y":0.84},{"x":0.96,"y":0.86},
      {"x":1.06,"y":1.08},{"x":1.07,"y":1.04},{"x":1.08,"y":1.11},{"x":1.09,"y":1.07},{"x":1.1,"y":1.13},{"x":1.1,"y":1.09},
      {"x":1.11,"y":1.15},{"x":1.12,"y":1.11},{"x":1.13,"y":1.17},{"x":1.13,"y":1.13},{"x":1.14,"y":1.19},{"x":1.15,"y":1.15},
      {"x":1.16,"y":1.21},{"x":1.16,"y":1.17},{"x":1.17,"y":1.19},{"x":1.18,"y":1.23},{"x":1.18,"y":1.16},{"x":1.19,"y":1.2},
      {"x":1.2,"y":1.25},{"x":1.2,"y":1.18},{"x":1.21,"y":1.22},{"x":1.22,"y":1.27},{"x":1.23,"y":1.21},{"x":1.24,"y":1.26},
      {"x":1.25,"y":1.23},{"x":1.06,"y":1.12},{"x":1.08,"y":1.02},{"x":1.12,"y":1.05},{"x":1.15,"y":1.1},{"x":1.19,"y":1.13},
      {"x":1.22,"y":1.17},
      {"x":1.1,"y":1.0},{"x":1.11,"y":1.03},{"x":1.12,"y":0.98},{"x":1.1,"y":1.06},{"x":1.13,"y":1.02},{"x":1.14,"y":1.06},
      {"x":1.11,"y":1.1},{"x":1.12,"y":1.14},{"x":1.1,"y":1.18},{"x":1.13,"y":1.2},{"x":1.11,"y":1.22},{"x":1.15,"y":1.24},
      {"x":1.12,"y":1.26},{"x":1.1,"y":1.28},{"x":1.14,"y":1.28},{"x":1.16,"y":1.3},{"x":1.11,"y":1.31},{"x":1.13,"y":1.33},
      {"x":1.17,"y":1.34},{"x":1.1,"y":1.35},{"x":1.12,"y":1.36},{"x":1.15,"y":1.37},{"x":1.11,"y":1.39},{"x":1.14,"y":1.4},
      {"x":1.17,"y":1.41},{"x":1.1,"y":1.42},{"x":1.13,"y":1.43},{"x":1.16,"y":1.44},{"x":1.11,"y":1.46},{"x":1.14,"y":1.47},
      {"x":1.12,"y":1.49},{"x":1.18,"y":1.48},{"x":1.1,"y":1.51},{"x":1.15,"y":1.52},{"x":1.13,"y":1.55},{"x":1.11,"y":1.58},
      {"x":1.16,"y":1.57},{"x":1.12,"y":1.62},{"x":1.14,"y":1.65},{"x":1.1,"y":1.25},{"x":1.16,"y":1.26},{"x":1.18,"y":1.3},
      {"x":1.12,"y":1.3},{"x":1.15,"y":1.33},{"x":1.19,"y":1.37},{"x":1.1,"y":1.38},{"x":1.13,"y":1.38},{"x":1.16,"y":1.4},
      {"x":1.12,"y":1.42},{"x":1.15,"y":1.45},{"x":1.18,"y":1.44},{"x":1.13,"y":1.46},{"x":1.11,"y":1.2},{"x":1.17,"y":1.22},
      {"x":1.14,"y":1.16},{"x":1.09,"y":0.95},{"x":1.12,"y":0.9},{"x":1.1,"y":0.86},{"x":1.11,"y":0.82},{"x":1.09,"y":0.8},
      {"x":1.12,"y":0.81},{"x":1.13,"y":0.84},{"x":1.1,"y":0.79},
      {"x":1.1,"y":1.45},{"x":1.12,"y":1.48},{"x":1.14,"y":1.5},{"x":1.16,"y":1.47},{"x":1.11,"y":1.43},{"x":1.13,"y":1.41},
      {"x":1.15,"y":1.42},{"x":1.17,"y":1.38},{"x":1.11,"y":1.35},{"x":1.13,"y":1.31},{"x":1.16,"y":1.34},{"x":1.18,"y":1.35},
      {"x":1.1,"y":1.32},{"x":1.12,"y":1.28},{"x":1.14,"y":1.25},{"x":1.17,"y":1.27},{"x":1.1,"y":1.22},{"x":1.13,"y":1.24},
      {"x":1.15,"y":1.2},{"x":1.12,"y":1.18},{"x":1.1,"y":1.15},{"x":1.14,"y":1.12},{"x":1.11,"y":1.07},{"x":1.13,"y":1.09},
      {"x":1.16,"y":1.13},
      {"x":1.04,"y":0.78},{"x":1.06,"y":0.75},{"x":1.07,"y":0.8},{"x":1.05,"y":0.83},{"x":1.08,"y":0.77},{"x":1.03,"y":0.84},
      {"x":1.26,"y":1.02},{"x":1.28,"y":1.05},{"x":1.27,"y":1.08},{"x":1.29,"y":1.1},{"x":1.26,"y":1.12},{"x":1.28,"y":1.14},
      {"x":1.3,"y":1.16},{"x":1.27,"y":1.18},{"x":1.25,"y":1.2},{"x":1.29,"y":1.21},{"x":1.27,"y":1.23},{"x":1.26,"y":1.25},
      {"x":1.28,"y":1.26},{"x":1.3,"y":1.28},{"x":1.27,"y":1.3},{"x":1.25,"y":1.31},{"x":1.29,"y":1.32},{"x":1.26,"y":1.34},
      {"x":1.28,"y":1.35},{"x":1.27,"y":1.37},{"x":1.3,"y":1.38},{"x":1.25,"y":1.39},{"x":1.28,"y":1.4},{"x":1.26,"y":1.42},
      {"x":1.29,"y":1.43},{"x":1.27,"y":1.45},{"x":1.28,"y":1.47},{"x":1.26,"y":1.49},{"x":1.29,"y":1.5},{"x":1.27,"y":1.52},
      {"x":1.28,"y":1.55},{"x":1.26,"y":1.58},{"x":1.27,"y":1.61},{"x":1.29,"y":1.56},{"x":1.25,"y":1.28},{"x":1.3,"y":1.33},
      {"x":1.26,"y":1.16},{"x":1.29,"y":1.19},{"x":1.24,"y":1.36},{"x":1.24,"y":1.3},
      {"x":1.26,"y":1.45},{"x":1.28,"y":1.44},{"x":1.3,"y":1.41},{"x":1.27,"y":1.41},{"x":1.25,"y":1.36},{"x":1.29,"y":1.36},
      {"x":1.27,"y":1.33},{"x":1.26,"y":1.29},{"x":1.29,"y":1.27},{"x":1.27,"y":1.26},{"x":1.25,"y":1.24},{"x":1.28,"y":1.22},
      {"x":1.3,"y":1.2},{"x":1.26,"y":1.19},{"x":1.28,"y":1.17},{"x":1.27,"y":1.14},{"x":1.29,"y":1.12},{"x":1.26,"y":1.08},
      {"x":1.28,"y":1.09},{"x":1.3,"y":1.24},{"x":1.26,"y":1.52},{"x":1.28,"y":1.51},{"x":1.3,"y":1.47},{"x":1.29,"y":1.53},
      {"x":1.27,"y":1.58},
      {"x":1.2,"y":1.3},{"x":1.21,"y":1.35},{"x":1.22,"y":1.28},{"x":1.23,"y":1.33},{"x":1.2,"y":1.38},{"x":1.22,"y":1.4},
      {"x":1.19,"y":1.27},{"x":1.21,"y":1.31},{"x":1.23,"y":1.38},
      {"x":1.07,"y":1.3},{"x":1.08,"y":1.25},{"x":1.06,"y":1.35},{"x":1.09,"y":1.45},{"x":1.05,"y":1.22},
      {"x":1.31,"y":1.3},{"x":1.32,"y":1.35},{"x":1.33,"y":1.28},{"x":1.34,"y":1.36},{"x":1.35,"y":1.32},{"x":1.36,"y":1.4},
      {"x":1.37,"y":1.35},{"x":1.38,"y":1.38},{"x":1.39,"y":1.42},{"x":1.4,"y":1.37},{"x":1.41,"y":1.44},{"x":1.42,"y":1.4},
      {"x":1.43,"y":1.47},{"x":1.44,"y":1.43},{"x":1.45,"y":1.49},{"x":1.46,"y":1.45},{"x":1.47,"y":1.5},{"x":1.48,"y":1.47},
      {"x":1.49,"y":1.52},{"x":1.5,"y":1.49},{"x":1.51,"y":1.55},{"x":1.52,"y":1.5},
      {"x":1.42,"y":1.55},{"x":1.43,"y":1.6},{"x":1.44,"y":1.52},{"x":1.45,"y":1.58},{"x":1.46,"y":1.63},{"x":1.44,"y":1.67},
      {"x":1.43,"y":1.7},{"x":1.45,"y":1.72},{"x":1.47,"y":1.68},{"x":1.46,"y":1.75},{"x":1.44,"y":1.78},{"x":1.42,"y":1.8},
      {"x":1.45,"y":1.82},{"x":1.47,"y":1.85},{"x":1.43,"y":1.87},{"x":1.48,"y":1.78},{"x":1.49,"y":1.72},{"x":1.5,"y":1.65},
      {"x":1.51,"y":1.6},{"x":1.48,"y":1.58},{"x":1.5,"y":1.55},{"x":1.52,"y":1.62},{"x":1.53,"y":1.67},{"x":1.54,"y":1.58},
      {"x":1.55,"y":1.63},{"x":1.53,"y":1.55},{"x":1.56,"y":1.6},{"x":1.52,"y":1.7},{"x":1.54,"y":1.74},{"x":1.5,"y":1.8},
      {"x":1.55,"y":1.68},{"x":1.57,"y":1.65},{"x":1.46,"y":1.53},{"x":1.44,"y":1.45},{"x":1.47,"y":1.42},{"x":1.49,"y":1.38},
      {"x":1.45,"y":1.36},{"x":1.43,"y":1.32},{"x":1.48,"y":1.35},{"x":1.51,"y":1.42},{"x":1.53,"y":1.45},{"x":1.55,"y":1.48},
      {"x":1.57,"y":1.52},{"x":1.42,"y":1.65},{"x":1.41,"y":1.5},{"x":1.4,"y":1.58},{"x":1.4,"y":1.7},{"x":1.39,"y":1.62},
      {"x":1.38,"y":1.74},{"x":1.46,"y":1.88},{"x":1.49,"y":1.9},{"x":1.44,"y":1.92},{"x":1.51,"y":1.84},{"x":1.47,"y":1.61},
      {"x":1.49,"y":1.64},{"x":1.46,"y":1.69},{"x":1.5,"y":1.7},
      {"x":1.43,"y":1.64},{"x":1.45,"y":1.66},{"x":1.47,"y":1.72},{"x":1.49,"y":1.76},{"x":1.51,"y":1.66},{"x":1.53,"y":1.6},
      {"x":1.45,"y":1.62},{"x":1.47,"y":1.56},{"x":1.44,"y":1.73},{"x":1.46,"y":1.79},{"x":1.48,"y":1.82},{"x":1.5,"y":1.75},
      {"x":1.52,"y":1.78},{"x":1.42,"y":1.76},{"x":1.41,"y":1.62},{"x":1.43,"y":1.55},{"x":1.45,"y":1.5},{"x":1.48,"y":1.53},
      {"x":1.5,"y":1.6},{"x":1.52,"y":1.55},{"x":1.54,"y":1.63},{"x":1.56,"y":1.71},{"x":1.58,"y":1.62},{"x":1.6,"y":1.66},
      {"x":1.62,"y":1.72},{"x":1.64,"y":1.78},{"x":1.61,"y":1.8},{"x":1.63,"y":1.77},{"x":1.65,"y":1.72},{"x":1.67,"y":1.8},
      {"x":1.69,"y":1.85},{"x":1.71,"y":1.75},{"x":1.73,"y":1.82},{"x":1.76,"y":1.8},{"x":1.78,"y":1.83},{"x":1.81,"y":1.86},
      {"x":1.59,"y":1.6},{"x":1.57,"y":1.58},{"x":1.62,"y":1.63},{"x":1.66,"y":1.65},
      {"x":1.38,"y":1.45},{"x":1.39,"y":1.52},{"x":1.38,"y":1.6},{"x":1.39,"y":1.35},{"x":1.4,"y":1.42},
      {"x":1.32,"y":1.45},{"x":1.34,"y":1.5},{"x":1.33,"y":1.42},{"x":1.36,"y":1.48},{"x":1.35,"y":1.55},{"x":1.31,"y":1.4},
      {"x":1.34,"y":1.16},{"x":1.36,"y":1.17},{"x":1.42,"y":1.13},{"x":1.44,"y":1.16},{"x":1.46,"y":1.16},{"x":1.48,"y":1.15},
      {"x":1.45,"y":1.14},{"x":1.55,"y":1.16},{"x":1.43,"y":1.11},
      {"x":1.42,"y":1.28},{"x":1.46,"y":1.3},{"x":1.5,"y":1.33},{"x":1.52,"y":1.27},{"x":1.54,"y":1.36},
      {"x":1.57,"y":1.35},{"x":1.64,"y":1.35},{"x":1.645,"y":1.32},{"x":1.73,"y":1.39},{"x":1.735,"y":1.34},
      {"x":1.59,"y":1.7},{"x":1.6,"y":1.75},{"x":1.61,"y":1.66},{"x":1.62,"y":1.8},{"x":1.63,"y":1.72},{"x":1.6,"y":1.62},
      {"x":1.62,"y":1.58},{"x":1.64,"y":1.64},{"x":1.65,"y":1.77},{"x":1.66,"y":1.69},{"x":1.63,"y":1.85},{"x":1.6,"y":1.88},
      {"x":1.61,"y":1.92},{"x":1.64,"y":1.9},{"x":1.66,"y":1.82},{"x":1.67,"y":1.75},{"x":1.68,"y":1.67},{"x":1.65,"y":1.55},
      {"x":1.63,"y":1.5},{"x":1.61,"y":1.47},{"x":1.66,"y":1.6},{"x":1.68,"y":1.72},{"x":1.7,"y":1.78},{"x":1.72,"y":1.7},
      {"x":1.7,"y":1.84},{"x":1.73,"y":1.88},{"x":1.75,"y":1.76},{"x":1.74,"y":1.8},{"x":1.77,"y":1.85},{"x":1.78,"y":1.72},
      {"x":1.76,"y":1.68},{"x":1.8,"y":1.82},{"x":1.81,"y":1.76},{"x":1.79,"y":1.9},{"x":1.82,"y":1.88},{"x":1.84,"y":1.83},
      {"x":1.83,"y":1.9},{"x":1.86,"y":1.86},{"x":1.85,"y":1.95},{"x":1.87,"y":1.9},{"x":1.88,"y":1.98},{"x":1.78,"y":1.95},
      {"x":1.72,"y":1.92},{"x":1.69,"y":1.62},{"x":1.67,"y":1.52},{"x":1.71,"y":1.6},{"x":1.74,"y":1.65},{"x":1.58,"y":1.55},
      {"x":1.59,"y":1.82},{"x":1.62,"y":1.95},{"x":1.66,"y":1.97},{"x":1.7,"y":1.9},{"x":1.75,"y":1.92},{"x":1.8,"y":1.96},
      {"x":1.76,"y":1.97},{"x":1.83,"y":1.94},
      {"x":1.6,"y":1.96},{"x":1.63,"y":2.01},{"x":1.69,"y":1.99},{"x":1.77,"y":2.04},{"x":1.82,"y":2.01},{"x":1.85,"y":2.04},
      {"x":1.89,"y":2.11},{"x":1.6,"y":1.84},{"x":1.62,"y":1.88},{"x":1.64,"y":1.87},{"x":1.67,"y":1.86},{"x":1.7,"y":1.91},
      {"x":1.72,"y":1.85},{"x":1.74,"y":1.89},{"x":1.77,"y":1.87},{"x":1.8,"y":1.85},{"x":1.82,"y":1.9},{"x":1.84,"y":1.88},
      {"x":1.87,"y":1.89},{"x":1.55,"y":1.88},
      {"x":2.55,"y":2.61},{"x":2.38,"y":2.56},{"x":2.49,"y":2.49},{"x":2.53,"y":2.52},{"x":2.1,"y":2.54},{"x":2.23,"y":2.48},
      {"x":2.32,"y":2.46},{"x":2.34,"y":2.47},{"x":1.99,"y":2.41},{"x":2.05,"y":2.39},{"x":2.07,"y":2.4},{"x":2.08,"y":2.4},
      {"x":2.25,"y":2.39},{"x":2.43,"y":2.34},{"x":1.99,"y":2.31},{"x":2.09,"y":2.3},{"x":2.36,"y":2.27},{"x":2.01,"y":2.25},
      {"x":2.04,"y":2.23},{"x":2.1,"y":2.21},{"x":2.16,"y":2.17},{"x":2.08,"y":2.17},{"x":1.94,"y":2.14},{"x":2.0,"y":2.15},
      {"x":1.89,"y":2.11},{"x":2.32,"y":2.13},
      {"x":2.0,"y":2.11},{"x":2.02,"y":2.1},{"x":2.01,"y":2.09},{"x":2.06,"y":2.11},{"x":2.05,"y":2.1},{"x":2.07,"y":2.1},
      {"x":2.11,"y":2.1},{"x":1.99,"y":2.08},{"x":2.0,"y":2.07},{"x":2.02,"y":2.08},{"x":2.04,"y":2.08},{"x":2.06,"y":2.09},
      {"x":1.85,"y":2.04},{"x":1.83,"y":2.02},{"x":1.95,"y":2.05},{"x":1.96,"y":2.04},{"x":1.99,"y":2.03},{"x":2.0,"y":2.03},
      {"x":2.02,"y":2.05},{"x":2.03,"y":2.06},{"x":2.08,"y":2.06},{"x":1.96,"y":1.99},{"x":1.97,"y":1.98},{"x":2.0,"y":1.99},
      {"x":2.04,"y":2.0},{"x":2.06,"y":1.97},{"x":1.95,"y":1.96},{"x":2.0,"y":1.98},{"x":2.04,"y":1.94},{"x":2.03,"y":1.93},
      {"x":2.01,"y":1.92},{"x":1.99,"y":1.93},{"x":2.02,"y":1.91},{"x":1.87,"y":1.93},{"x":1.91,"y":1.92},{"x":1.87,"y":1.9},
      {"x":1.84,"y":1.9},{"x":1.98,"y":1.89},{"x":2.0,"y":1.88},{"x":1.97,"y":1.86},{"x":1.95,"y":1.84},{"x":2.02,"y":1.85},
      {"x":2.05,"y":1.9},{"x":1.98,"y":1.82},{"x":2.02,"y":1.74},{"x":2.16,"y":1.86},{"x":2.2,"y":1.98},{"x":1.82,"y":1.87},
      {"x":1.83,"y":1.86},{"x":1.82,"y":1.76},{"x":1.86,"y":1.55}
    ],
    "one_to_one": [{"x": 0, "y": 0}, {"x": 3, "y": 3}]
  },
  "layer": [
    {
      "data": {"name": "outliers"},
      "mark": {"type": "circle", "size": 16, "color": "black", "opacity": 1},
      "encoding": {
        "x": {"field": "x", "type": "quantitative", "scale": {"domain": [0, 3], "nice": false, "zero": false}, "axis": {"values": [0, 0.5, 1, 1.5, 2, 2.5, 3], "format": ".1f"}},
        "y": {"field": "y", "type": "quantitative", "scale": {"domain": [0, 3], "nice": false, "zero": false}, "axis": {"values": [0, 0.5, 1, 1.5, 2, 2.5, 3], "format": ".1f"}}
      }
    },
    {
      "data": {"name": "matched"},
      "mark": {"type": "circle", "size": 16, "color": "#ff0000", "opacity": 1},
      "encoding": {
        "x": {"field": "x", "type": "quantitative"},
        "y": {"field": "y", "type": "quantitative"}
      }
    },
    {
      "data": {"name": "one_to_one"},
      "mark": {"type": "line", "color": "#1f77b4", "strokeWidth": 3, "strokeDash": [12, 5], "clip": true},
      "encoding": {
        "x": {"field": "x", "type": "quantitative"},
        "y": {"field": "y", "type": "quantitative"}
      }
    },
    {
      "data": {"values": [{}]},
      "layer": [
        {"mark": {"type": "text", "text": "Bands Added Scheme", "font": "DejaVu Sans", "fontSize": 24, "align": "center", "baseline": "alphabetic", "color": "black"},
         "encoding": {"x": {"datum": 1.5}, "y": {"datum": 3.064}}},
        {"mark": {"type": "text", "text": "Alternative", "font": "Lato", "fontSize": 44, "align": "left", "baseline": "alphabetic", "color": "black"},
         "encoding": {"x": {"datum": 0.218}, "y": {"datum": 2.512}}},
        {"mark": {"type": "text", "text": "σ", "font": "DejaVu Sans", "fontStyle": "italic", "fontSize": 20, "align": "left", "baseline": "alphabetic", "color": "black"},
         "encoding": {"x": {"datum": 2.051}, "y": {"datum": 0.893}}},
        {"mark": {"type": "text", "text": "NMAD", "font": "DejaVu Sans", "fontSize": 14, "align": "left", "baseline": "alphabetic", "color": "black"},
         "encoding": {"x": {"datum": 2.113}, "y": {"datum": 0.877}}},
        {"mark": {"type": "text", "text": "=", "font": "DejaVu Sans", "fontSize": 20, "align": "left", "baseline": "alphabetic", "color": "black"},
         "encoding": {"x": {"datum": 2.305}, "y": {"datum": 0.893}}},
        {"mark": {"type": "text", "text": "0.0313", "font": "DejaVu Sans", "fontSize": 20, "align": "right", "baseline": "alphabetic", "color": "black"},
         "encoding": {"x": {"datum": 2.701}, "y": {"datum": 0.893}}},
        {"mark": {"type": "text", "text": "σ", "font": "DejaVu Sans", "fontStyle": "italic", "fontSize": 20, "align": "left", "baseline": "alphabetic", "color": "black"},
         "encoding": {"x": {"datum": 1.954}, "y": {"datum": 0.753}}},
        {"mark": {"type": "text", "text": "NMAD All", "font": "DejaVu Sans", "fontSize": 14, "align": "left", "baseline": "alphabetic", "color": "black"},
         "encoding": {"x": {"datum": 2.01}, "y": {"datum": 0.736}}},
        {"mark": {"type": "text", "text": "=", "font": "DejaVu Sans", "fontSize": 20, "align": "left", "baseline": "alphabetic", "color": "black"},
         "encoding": {"x": {"datum": 2.297}, "y": {"datum": 0.753}}},
        {"mark": {"type": "text", "text": "0.0360", "font": "DejaVu Sans", "fontSize": 20, "align": "right", "baseline": "alphabetic", "color": "black"},
         "encoding": {"x": {"datum": 2.701}, "y": {"datum": 0.753}}},
        {"mark": {"type": "text", "text": "f", "font": "DejaVu Sans", "fontStyle": "italic", "fontSize": 20, "align": "left", "baseline": "alphabetic", "color": "black"},
         "encoding": {"x": {"datum": 2.164}, "y": {"datum": 0.606}}},
        {"mark": {"type": "text", "text": "c", "font": "DejaVu Sans", "fontStyle": "italic", "fontSize": 14, "align": "left", "baseline": "alphabetic", "color": "black"},
         "encoding": {"x": {"datum": 2.2}, "y": {"datum": 0.59}}},
        {"mark": {"type": "text", "text": "=", "font": "DejaVu Sans", "fontSize": 20, "align": "left", "baseline": "alphabetic", "color": "black"},
         "encoding": {"x": {"datum": 2.233}, "y": {"datum": 0.606}}},
        {"mark": {"type": "text", "text": "9.2210%", "font": "DejaVu Sans", "fontSize": 20, "align": "center", "baseline": "alphabetic", "color": "black"},
         "encoding": {"x": {"datum": 2.497}, "y": {"datum": 0.606}}},
        {"mark": {"type": "text", "text": "z", "font": "DejaVu Sans", "fontStyle": "italic", "fontSize": 20, "align": "left", "baseline": "alphabetic", "color": "black"},
         "encoding": {"x": {"datum": 1.405}, "y": {"datum": -0.303}}},
        {"mark": {"type": "text", "text": "input", "font": "DejaVu Sans", "fontSize": 14, "align": "left", "baseline": "alphabetic", "color": "black"},
         "encoding": {"x": {"datum": 1.449}, "y": {"datum": -0.319}}},
        {"mark": {"type": "text", "text": "z", "font": "DejaVu Sans", "fontStyle": "italic", "fontSize": 20, "angle": 270, "align": "left", "baseline": "alphabetic", "color": "black"},
         "encoding": {"x": {"datum": -0.25}, "y": {"datum": 1.456}}},
        {"mark": {"type": "text", "text": "fit", "font": "DejaVu Sans", "fontSize": 14, "angle": 270, "align": "left", "baseline": "alphabetic", "color": "black"},
         "encoding": {"x": {"datum": -0.242}, "y": {"datum": 1.511}}}
      ]
    }
  ]
}
